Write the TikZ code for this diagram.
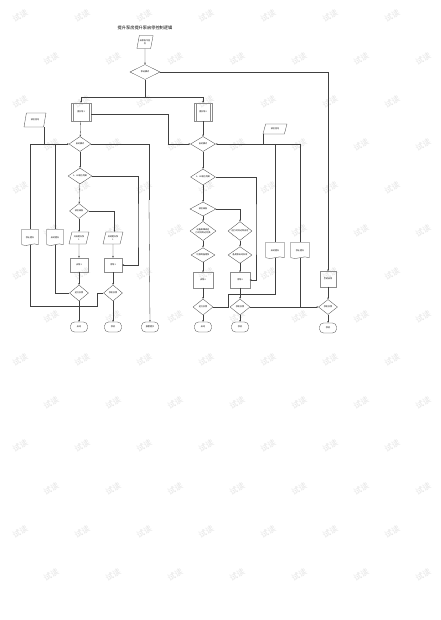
\documentclass[tikz,border=0pt]{standalone}
\usepackage{fontspec}
\newfontfamily\cjk{Noto Sans CJK SC}
\usetikzlibrary{shapes.geometric,arrows.meta}
\begin{document}
\begin{tikzpicture}[x=1pt,y=-1pt,
  every node/.style={font=\cjk\fontsize{2.1}{2.5}\selectfont, inner sep=0.4pt, align=center},
  ln/.style={draw=black!75, line width=0.3pt},
  bx/.style={draw=black!45, line width=0.2pt},
  arr/.style={ln, -{Stealth[length=1.8pt,width=1.5pt]}},
  boxshape/.style={minimum width=18pt, minimum height=14pt},
  subp/.style={boxshape, minimum width=20pt, minimum height=18pt},
  dec/.style={draw=black!75, fill=white, line width=0.3pt, diamond, minimum width=22pt, minimum height=15pt, inner sep=0pt},
  io/.style={draw=black!75, fill=white, line width=0.3pt, trapezium, trapezium left angle=65, trapezium right angle=115, trapezium stretches=true, minimum width=20pt, minimum height=12pt},
  term/.style={draw=black!75, fill=white, line width=0.3pt, rounded corners=4pt, minimum width=17pt, minimum height=10pt},
  docu/.style={minimum width=16pt, minimum height=15pt},
  wm/.style={font=\cjk\fontsize{8}{8}\selectfont, text=black!10, rotate=30}]
\fill[white] (0,0) -- (440,0) -- (440,620) -- (0,620) -- cycle;
\useasboundingbox (0,0) rectangle (440,620);
% watermarks
\foreach \j in {0,...,13} {
  \foreach \i in {0,...,6} {
    \pgfmathsetmacro{\wx}{20+62*\i+mod(\j,2)*31}
    \pgfmathsetmacro{\wy}{16+43*\j}
    \node[wm] at (\wx,\wy) {试读};
  }
}
% title
\node[font=\cjk\fontsize{4.2}{5}\selectfont] (title) at (145,28) {提升泵房提升泵启停控制逻辑};
% top
\node[io, minimum width=16pt, minimum height=13pt] (p0) at (145,42) {启泵指令信\\号};
\node[dec, minimum width=30pt, minimum height=15pt] (d0) at (145,72) {泵站模式};
\coordinate (j0) at (145,97);
\node[subp] (sA) at (81,112) {提升泵1};
\node[subp, minimum width=18pt] (sB) at (203,112) {提升泵2};
% left group
\node[io, minimum width=22pt, minimum height=14pt] (pL) at (35,120) {液位信号};
\node[dec] (dL1) at (80,144) {自动模式};
\node[dec, minimum width=24pt, minimum height=13pt] (dL2) at (80,176) {1、2\#液位判断};
\node[dec, minimum width=19pt] (dL3) at (79,211) {液位高低};
\node[io] (pL4a) at (79,238) {开启提升泵\\1};
\node[io] (pL4b) at (113,238) {关闭提升泵\\1};
\node[boxshape] (rL4a) at (79,265) {启泵1};
\node[boxshape] (rL4b) at (113,265) {停泵1};
\node[dec, minimum width=19pt, minimum height=16pt] (dL5a) at (79,293) {运行反馈};
\node[dec, minimum width=19pt, minimum height=16pt] (dL5b) at (113,293) {停机反馈};
\node[term] (tL1) at (79,327) {启动};
\node[term] (tL2) at (113,327) {停机};
\node[term] (tL3) at (150,327) {报警提示};
\node[docu] (D1) at (30,237) {};
\node[docu] (D2) at (55,237) {};
% right group
\node[io, minimum width=24pt, minimum height=10pt] (pR) at (275,129) {液位信号};
\node[dec, minimum width=25pt] (dR1) at (203,144) {自动模式};
\node[dec, minimum width=25pt, minimum height=13pt] (dR2) at (203,177) {1、2\#液位判断};
\node[dec, minimum width=26pt, minimum height=14pt] (dR3) at (203,209) {液位高低};
\node[dec, minimum width=26pt, minimum height=17pt] (dR4a1) at (203,231) {设备故障或运\\行时间到达切换};
\node[dec, minimum width=24pt, minimum height=13pt] (dR4b1) at (240,231) {运行时间达到设定};
\node[dec, minimum width=24pt, minimum height=13pt] (dR4a2) at (203,255) {切换到备用泵};
\node[dec, minimum width=24pt, minimum height=13pt] (dR4b2) at (240,255) {备用泵启动失败};
\node[boxshape, minimum width=19pt, minimum height=15pt] (rR4a) at (203,280) {启泵2};
\node[boxshape, minimum width=19pt, minimum height=15pt] (rR4b) at (240,280) {停泵2};
\node[boxshape, minimum width=16pt, minimum height=15pt] (r3) at (328,279) {手动启停};
\node[dec, minimum width=20pt, minimum height=16pt] (dR5a) at (203,307) {运行反馈};
\node[dec, minimum width=20pt, minimum height=16pt] (dR5b) at (240,307) {停机反馈};
\node[dec, minimum width=19pt, minimum height=15pt] (dR5c) at (328,307) {停机反馈};
\node[term] (tR1) at (203,327) {启动};
\node[term] (tR2) at (240,327) {停机};
\node[term] (tR3) at (328,328) {停机};
\node[docu, minimum width=18pt] (DR1) at (275,250) {};
\node[docu, minimum width=18pt] (DR2) at (300,250) {};
% rectangle outlines as plain paths
\foreach \r in {sA,sB,rL4a,rL4b,rR4a,rR4b,r3} {
  \draw[bx] (\r.north west) -- (\r.north east) -- (\r.south east) -- (\r.south west) -- cycle;
}
\foreach \s in {sA,sB} {
  \draw[bx] ([xshift=1.8pt]\s.north west) -- ([xshift=1.8pt]\s.south west);
  \draw[bx] ([xshift=-1.8pt]\s.north east) -- ([xshift=-1.8pt]\s.south east);
}
% top connectors
\draw[arr] (p0) -- (d0);
\draw[ln] (d0) -- (j0);
\draw[ln] (sA.north |- j0) -- (sB.north |- j0);
\draw[arr] (sA.north |- j0) -- (sA);
\draw[arr] (sB.north |- j0) -- (sB);
\draw[arr] (d0.east) -| (r3.north);
\draw[arr] (sA) -- (dL1);
\draw[arr] (sB) -- (dR1);
\draw[arr] ([yshift=-2pt]sA.east) -| (168,144) -- (dR1.west);
% left connectors
\draw[ln] (pL.bottom right corner) -- (pL.bottom right corner |- dL1.west);
\draw[arr] (30,144) -- (dL1.west);
\draw[ln] (dL1.east) -| (149,200);
\draw[arr] (149,200) -- (tL3);
\draw[ln] (30,144) -- (D1.north);
\draw[ln] (D1.south) -- (30,306) -- (97,306) |- (dL5b.west);
\draw[ln] (55,144) -- (D2.north);
\draw[ln] (D2.south) |- (dL5a.west);
\draw[arr] (dL1) -- (dL2);
\draw[arr] (dL2.east) -| (138,230) |- (rL4b.east);
\draw[arr] (dL2) -- (dL3);
\draw[arr] (dL3.east) -| (pL4b.top side);
\draw[arr] (dL3) -- (pL4a);
\draw[arr] (pL4a) -- (rL4a);
\draw[arr] (pL4b) -- (rL4b);
\draw[arr] (rL4a) -- (dL5a);
\draw[arr] (rL4b) -- (dL5b);
\draw[arr] (dL5a) -- (tL1);
\draw[arr] (dL5b) -- (tL2);
% right connectors
\draw[ln] (pR.bottom left corner) -- (pR.bottom left corner |- dR1.east);
\draw[arr] (300,144) -- (dR1.east);
\draw[ln] (275,144) -- (DR1.north);
\draw[ln] (DR1.south) -- (275,294) -- (228,294) |- (dR5a.east);
\draw[ln] (300,144) -- (DR2.north);
\draw[ln] (DR2.south) -- (300,307);
\draw[arr] (dR5b.east) -- (dR5c.west);
\draw[arr] (dR1) -- (dR2);
\draw[arr] (dR2.east) -| (256,230) |- (rR4b.east);
\draw[arr] (dR2) -- (dR3);
\draw[arr] (dR3.east) -| (dR4b1.north);
\draw[arr] (dR3) -- (dR4a1);
\draw[arr] (dR4a1) -- (dR4a2);
\draw[arr] (dR4b1) -- (dR4b2);
\draw[arr] (dR4a2) -- (rR4a);
\draw[arr] (dR4b2) -- (rR4b);
\draw[arr] (rR4a) -- (dR5a);
\draw[arr] (rR4b) -- (dR5b);
\draw[arr] (r3) -- (dR5c);
\draw[arr] (dR5a) -- (tR1);
\draw[arr] (dR5b) -- (tR2);
\draw[arr] (dR5c) -- (tR3);
% document outlines
\foreach \d/\t in {D1/停止提升,D2/启动提升,DR1/启动提升,DR2/停止提升} {
  \draw[ln, fill=white] (\d.south west) -- (\d.north west) -- (\d.north east) -- (\d.south east)
    .. controls +(-5,-3) and +(5,3) .. (\d.south west);
  \node at ([yshift=-1pt]\d.center) {\t};
}
\end{tikzpicture}
\end{document}
